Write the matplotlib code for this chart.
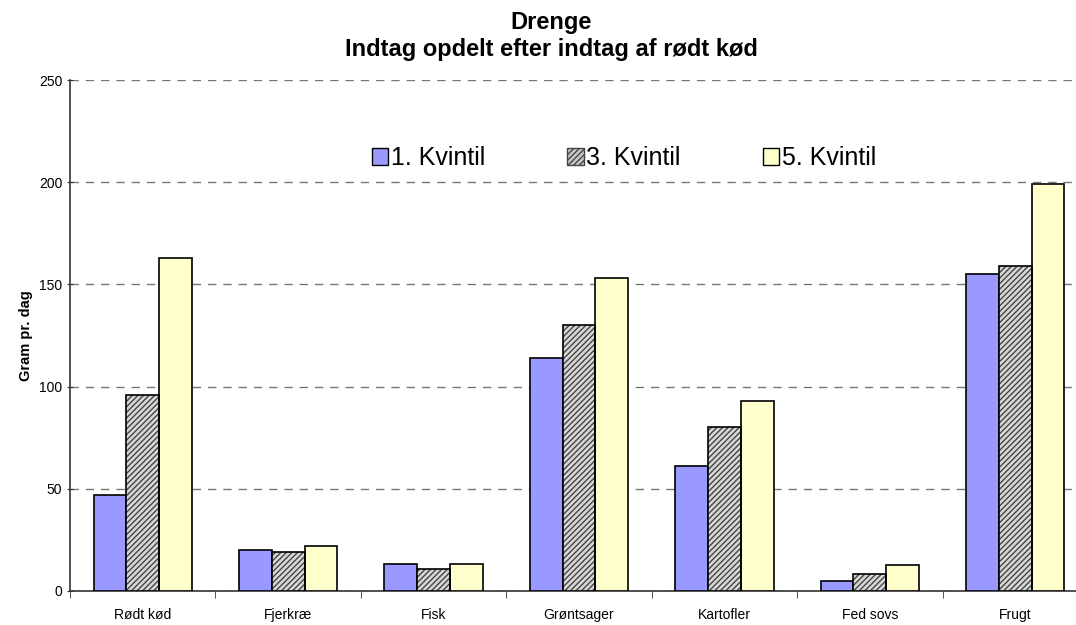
import matplotlib
matplotlib.use("Agg")
import matplotlib.pyplot as plt
import numpy as np
from matplotlib.patches import Patch

plt.rcParams['font.family'] = ['Liberation Sans', 'DejaVu Sans']

categories = ["Rødt kød", "Fjerkræ", "Fisk", "Grøntsager", "Kartofler", "Fed sovs", "Frugt"]
series_names = ["1. Kvintil", "3. Kvintil", "5. Kvintil"]
q1 = [47, 20, 13, 114, 61, 5, 155]
q3 = [96, 19, 11, 130, 80, 8.5, 159]
q5 = [163, 22, 13, 153, 93, 12.5, 199]
title = "Drenge\nIndtag opdelt efter indtag af rødt kød"
ylabel = "Gram pr. dag"
yticks = [0, 50, 100, 150, 200, 250]

fig = plt.figure(figsize=(10.76, 6.25), dpi=100)
W, H = 1076, 625
left, right, top, bottom = 70, 1088, 80, 591
ax = fig.add_axes([left / W, 1 - bottom / H, (right - left) / W, (bottom - top) / H])

x = np.arange(len(categories))
bw = 0.225
blue = "#9999FF"
yellow = "#FFFFCC"

ax.bar(x - bw, q1, bw, color=blue, edgecolor="black", linewidth=1.2, zorder=3)
# hatched grey bars
ax.bar(x, q3, bw, color="#D8D8D8", edgecolor="#444444", hatch="//////", linewidth=0, zorder=3)
ax.bar(x, q3, bw, facecolor="none", edgecolor="black", linewidth=1.2, zorder=4)
ax.bar(x + bw, q5, bw, color=yellow, edgecolor="black", linewidth=1.2, zorder=3)

ax.set_xlim(-0.5, len(categories) - 0.5)
ax.set_ylim(0, 250)
ax.set_yticks(yticks)
ax.set_yticklabels([str(v) for v in yticks], fontsize=10)
ax.set_xticks(x)
ax.set_xticklabels(categories, fontsize=10)
ax.set_xticks(np.arange(len(categories) + 1) - 0.5, minor=True)
ax.tick_params(axis='x', which='major', length=0, pad=12)
ax.tick_params(axis='x', which='minor', length=5, direction='out', color='#333333')
ax.tick_params(axis='y', length=5, direction='inout', color='#333333', pad=3)

ax.yaxis.grid(True, linestyle=(0, (6, 5)), color="#777777", linewidth=1, zorder=0)
ax.set_axisbelow(True)
for s in ["top", "right"]:
    ax.spines[s].set_visible(False)
ax.spines["left"].set_color("#333333")
ax.spines["bottom"].set_color("#333333")
ax.spines["left"].set_linewidth(1.2)
ax.spines["bottom"].set_linewidth(1.2)

ax.set_ylabel(ylabel, fontsize=10.5, fontweight="bold", labelpad=4)

fig.text(551 / W, 1 - 36 / H, title, ha="center", va="center",
         fontsize=17, fontweight="bold", linespacing=1.2)

handles = [Patch(facecolor=blue, edgecolor="black", linewidth=1),
           Patch(facecolor="#C8C8C8", edgecolor="#444444", hatch="//////", linewidth=1),
           Patch(facecolor=yellow, edgecolor="black", linewidth=1)]
leg = fig.legend(handles, series_names, loc="center", bbox_to_anchor=(624 / W, 1 - 158 / H),
                 ncol=3, frameon=False, fontsize=18, handlelength=0.65, handleheight=0.65,
                 handletextpad=0.1, columnspacing=3.3)

fig.savefig("out.png", dpi=100)
